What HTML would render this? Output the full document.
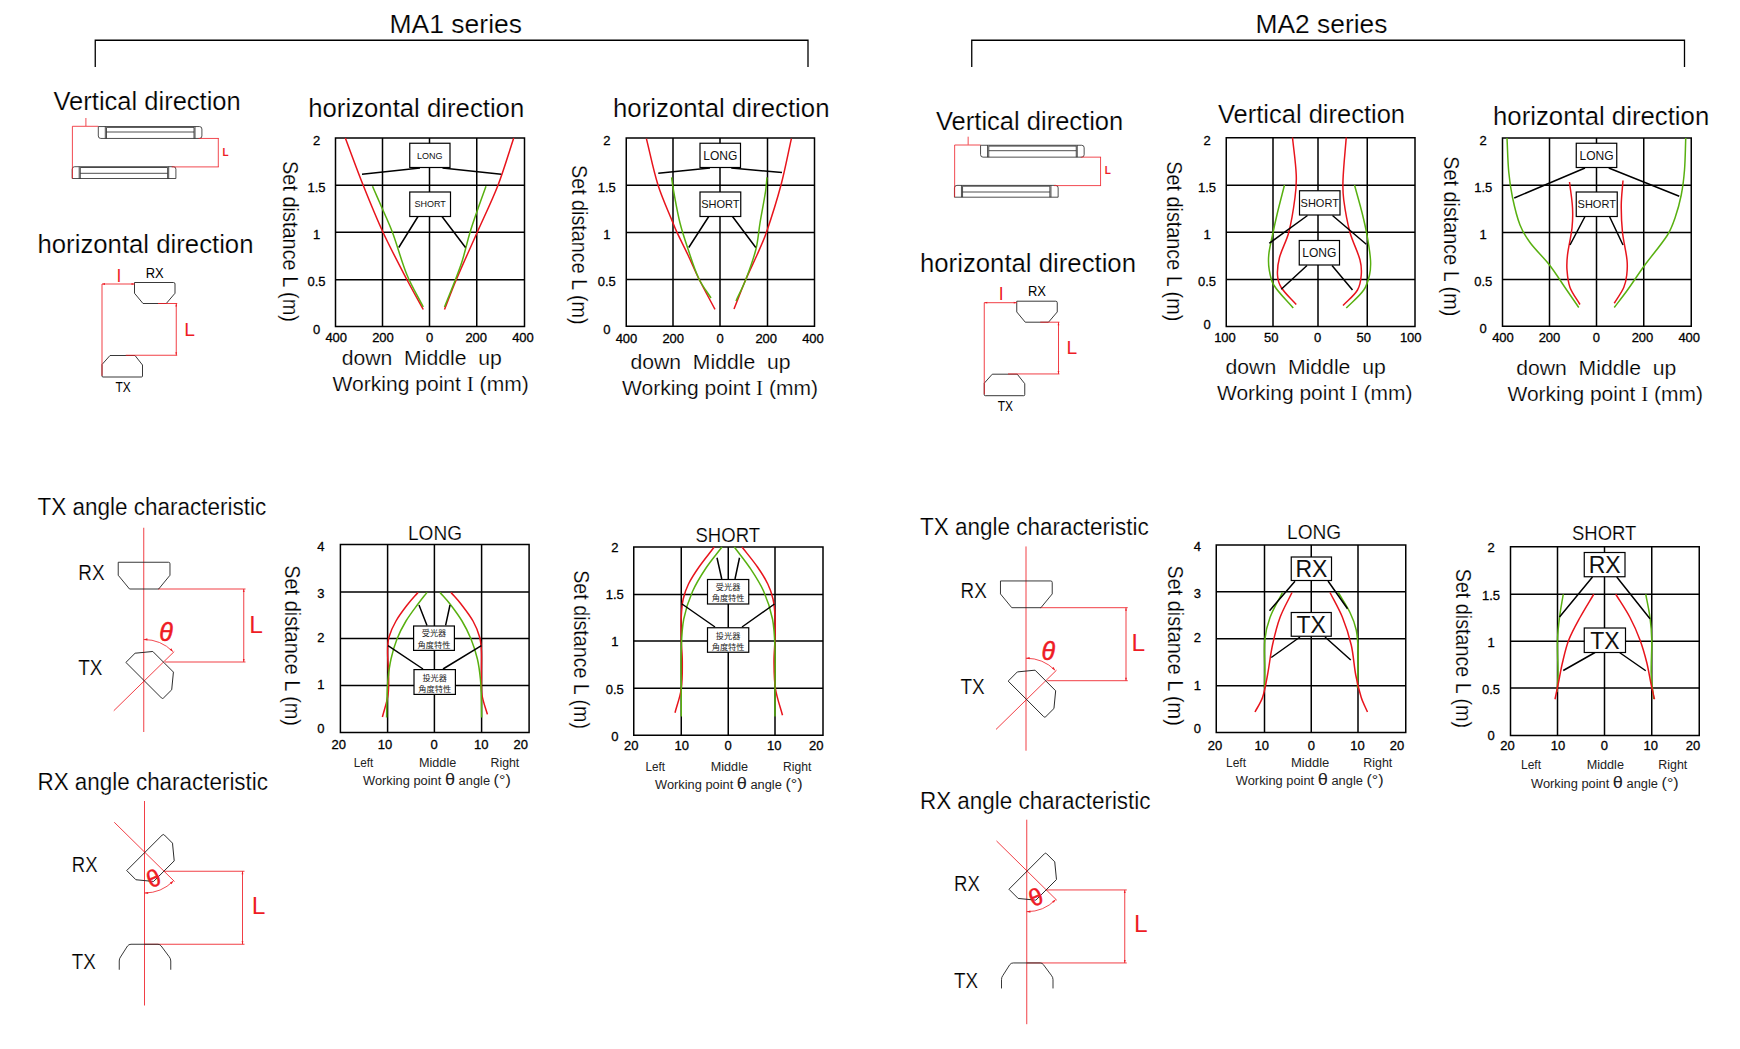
<!DOCTYPE html>
<html><head><meta charset="utf-8"><title>MA1 / MA2 series characteristics</title>
<style>
html,body{margin:0;padding:0;background:#fff;}
svg{display:block;font-family:'Liberation Sans', 'Noto Sans CJK TC', sans-serif;}
</style></head><body>
<svg width="1740" height="1049" viewBox="0 0 1740 1049">
<rect width="1740" height="1049" fill="#fff"/>
<text x="389.5" y="33.25" font-size="26" textLength="132.5" lengthAdjust="spacingAndGlyphs" stroke="#fff" stroke-width="0.2">MA1 series</text>
<text x="1255.5" y="33.25" font-size="26" textLength="132.0" lengthAdjust="spacingAndGlyphs" stroke="#fff" stroke-width="0.2">MA2 series</text>
<path d="M95.25,67V40.25H808V67" fill="none" stroke="#000" stroke-width="1.3"/>
<path d="M971.75,67V40.25H1684.5V67" fill="none" stroke="#000" stroke-width="1.3"/>
<text x="53.5" y="110.3" font-size="25" textLength="187.25" lengthAdjust="spacingAndGlyphs" stroke="#fff" stroke-width="0.2">Vertical direction</text>
<text x="37.5" y="253" font-size="25" textLength="216.0" lengthAdjust="spacingAndGlyphs" stroke="#fff" stroke-width="0.2">horizontal direction</text>
<text x="37.5" y="515.4" font-size="23.5" textLength="228.75" lengthAdjust="spacingAndGlyphs" stroke="#fff" stroke-width="0.2">TX angle characteristic</text>
<text x="37.5" y="790" font-size="23.5" textLength="230.5" lengthAdjust="spacingAndGlyphs" stroke="#fff" stroke-width="0.2">RX angle characteristic</text>
<g transform="translate(0,0)">
<path d="M98.3,126.55H199.4Q201.9,126.55 201.9,129.05V135.95Q201.9,138.45 199.4,138.45H100.8Q98.3,138.45 98.3,135.95V126.55ZM105.3,126.55V138.45M106.5,127.4V138.45M194,127.4V138.45M195,126.55V138.45M106.5,127.4H194M106.5,132H194M74.7,166.7H173.4Q175.9,166.7 175.9,169.2V178.5H72.2V169.2Q72.2,166.7 74.7,166.7ZM79.2,166.7V178.5M80.3,167.5V178.5M167.6,167.5V178.5M168.7,166.7V178.5M80.3,167.5H167.6M80.3,173.3H167.6" fill="none" stroke="#222" stroke-width="0.8"/>
<path d="M98.3,126.3H72.4V178.5M85.9,118V126M198.6,138.45H218.8M218.3,138.45V166.9M171.7,166.9H218.8" fill="none" stroke="#ee1c25" stroke-width="0.8"/>
<text x="222.6" y="155.5" font-size="10" fill="#ee1c25" font-weight="bold">L</text>
<path d="M134.5,282.5H173.5Q175,282.5 175,284V293.25L166.25,303.5H143L134.5,293.25Z" fill="none" stroke="#222" stroke-width="0.9"/>
<path d="M110,355.5H135L142.5,365V376Q142.5,377 141.5,377H103Q102,377 102,376V364.5Z" fill="none" stroke="#222" stroke-width="0.9"/>
<path d="M102,284H134.5M102,284V375.75M158,303.5H177.2M176.25,303.5V355.25M125.75,355.25H177.2" fill="none" stroke="#ee1c25" stroke-width="0.85"/>
<path d="M102,284l3,-0.9v1.8zM134.5,284l-3,-0.9v1.8zM176.25,303.5l-0.9,3h1.8zM176.25,355.25l-0.9,-3h1.8z" fill="#ee1c25"/>
<text x="145.75" y="277.5" font-size="14" textLength="18.0" lengthAdjust="spacingAndGlyphs">RX</text>
<text x="115.5" y="392" font-size="14" textLength="15.25" lengthAdjust="spacingAndGlyphs">TX</text>
<text x="116.6" y="281.5" font-size="17.5" fill="#ee1c25">I</text>
<text x="184.3" y="335.75" font-size="19.2" fill="#ee1c25">L</text>
<path d="M143.75,527.75V732M113.75,710.75L174.25,651.5M158,589H245.5M243.75,589V662M165,662H245.5" fill="none" stroke="#ee1c25" stroke-width="0.85"/>
<path d="M243.75,589l-0.9,3h1.8zM243.75,662l-0.9,-3h1.8z" fill="#ee1c25"/>
<path d="M143.75,639.5A41.25,41.25 0 0 1 172.9,651.6" fill="none" stroke="#ee1c25" stroke-width="0.8"/>
<path d="M143.75,639.5l3.6,-1.2l0.1,2.2zM172.9,651.6l-1.6,-3.4l-1.6,1.6z" fill="#ee1c25"/>
<path transform="translate(144.1,562.25)" d="M-25.875,0H24.375Q25.875,0 25.875,1.5V13.0L14.575,26.75H-14.575L-25.875,13.0Z" fill="none" stroke="#222" stroke-width="0.9"/>
<path transform="translate(144.2,680.7) rotate(45) scale(1,-1)" d="M-25.875,0H24.375Q25.875,0 25.875,1.5V13.0L14.575,26.75H-14.575L-25.875,13.0Z" fill="none" stroke="#222" stroke-width="0.9"/>
<text x="78.25" y="579.5" font-size="21.5" textLength="26.25" lengthAdjust="spacingAndGlyphs" stroke="#fff" stroke-width="0.2">RX</text>
<text x="78.25" y="675.25" font-size="21.5" textLength="24.25" lengthAdjust="spacingAndGlyphs" stroke="#fff" stroke-width="0.2">TX</text>
<text x="249.3" y="632.75" font-size="24.5" fill="#ee1c25">L</text>
<text x="159.2" y="641" font-size="25" fill="#ee1c25" font-style="italic" stroke="#ee1c25" stroke-width="0.5">θ</text>
<path d="M144.5,801V1005.5M114.25,822.25L174.5,881.5M163.75,871.25H244.5M242.5,871.25V944.25M144.5,944.25H244.5" fill="none" stroke="#ee1c25" stroke-width="0.85"/>
<path d="M242.5,871.25l-0.9,3h1.8zM242.5,944.25l-0.9,-3h1.8z" fill="#ee1c25"/>
<path d="M144.5,893A40.75,40.75 0 0 0 173.3,881.05" fill="none" stroke="#ee1c25" stroke-width="0.8"/>
<path d="M144.5,893l3.6,-1.1l0.1,2.2zM173.3,881.05l-3.4,1.5l1.7,1.6z" fill="#ee1c25"/>
<path transform="translate(145,852.25) rotate(-45)" d="M-25.875,0H24.375Q25.875,0 25.875,1.5V13.0L14.575,26.75H-14.575L-25.875,13.0Z" fill="none" stroke="#222" stroke-width="0.9"/>
<path d="M119.25,969.75V961Q119.25,958.5 120.5,957L127.5,946Q128.75,944.25 131,944.25H158Q160,944.25 161.2,946L169,956.5Q170.75,958.5 170.75,961V969.75" fill="none" stroke="#222" stroke-width="0.9"/>
<text x="71.75" y="872.25" font-size="21.5" textLength="25.75" lengthAdjust="spacingAndGlyphs" stroke="#fff" stroke-width="0.2">RX</text>
<text x="71.75" y="969.25" font-size="21.5" textLength="24.0" lengthAdjust="spacingAndGlyphs" stroke="#fff" stroke-width="0.2">TX</text>
<text x="251.8" y="913.5" font-size="24.5" fill="#ee1c25">L</text>
<text transform="translate(150.5,888.5) rotate(-22)" font-size="24" fill="#ee1c25" stroke="#ee1c25" stroke-width="0.5">θ</text>
</g>
<text x="936.0" y="129.6" font-size="25" textLength="187.25" lengthAdjust="spacingAndGlyphs" stroke="#fff" stroke-width="0.2">Vertical direction</text>
<text x="920.0" y="272.3" font-size="25" textLength="216.0" lengthAdjust="spacingAndGlyphs" stroke="#fff" stroke-width="0.2">horizontal direction</text>
<text x="920.0" y="534.6999999999999" font-size="23.5" textLength="228.75" lengthAdjust="spacingAndGlyphs" stroke="#fff" stroke-width="0.2">TX angle characteristic</text>
<text x="920.0" y="809.3" font-size="23.5" textLength="230.5" lengthAdjust="spacingAndGlyphs" stroke="#fff" stroke-width="0.2">RX angle characteristic</text>
<g transform="translate(882.25,18.7)">
<path d="M98.3,126.55H199.4Q201.9,126.55 201.9,129.05V135.95Q201.9,138.45 199.4,138.45H100.8Q98.3,138.45 98.3,135.95V126.55ZM105.3,126.55V138.45M106.5,127.4V138.45M194,127.4V138.45M195,126.55V138.45M106.5,127.4H194M106.5,132H194M74.7,166.7H173.4Q175.9,166.7 175.9,169.2V178.5H72.2V169.2Q72.2,166.7 74.7,166.7ZM79.2,166.7V178.5M80.3,167.5V178.5M167.6,167.5V178.5M168.7,166.7V178.5M80.3,167.5H167.6M80.3,173.3H167.6" fill="none" stroke="#222" stroke-width="0.8"/>
<path d="M98.3,126.3H72.4V178.5M85.9,118V126M198.6,138.45H218.8M218.3,138.45V166.9M171.7,166.9H218.8" fill="none" stroke="#ee1c25" stroke-width="0.8"/>
<text x="222.6" y="155.5" font-size="10" fill="#ee1c25" font-weight="bold">L</text>
<path d="M134.5,282.5H173.5Q175,282.5 175,284V293.25L166.25,303.5H143L134.5,293.25Z" fill="none" stroke="#222" stroke-width="0.9"/>
<path d="M110,355.5H135L142.5,365V376Q142.5,377 141.5,377H103Q102,377 102,376V364.5Z" fill="none" stroke="#222" stroke-width="0.9"/>
<path d="M102,284H134.5M102,284V375.75M158,303.5H177.2M176.25,303.5V355.25M125.75,355.25H177.2" fill="none" stroke="#ee1c25" stroke-width="0.85"/>
<path d="M102,284l3,-0.9v1.8zM134.5,284l-3,-0.9v1.8zM176.25,303.5l-0.9,3h1.8zM176.25,355.25l-0.9,-3h1.8z" fill="#ee1c25"/>
<text x="145.75" y="277.5" font-size="14" textLength="18.0" lengthAdjust="spacingAndGlyphs">RX</text>
<text x="115.5" y="392" font-size="14" textLength="15.25" lengthAdjust="spacingAndGlyphs">TX</text>
<text x="116.6" y="281.5" font-size="17.5" fill="#ee1c25">I</text>
<text x="184.3" y="335.75" font-size="19.2" fill="#ee1c25">L</text>
<path d="M143.75,527.75V732M113.75,710.75L174.25,651.5M158,589H245.5M243.75,589V662M165,662H245.5" fill="none" stroke="#ee1c25" stroke-width="0.85"/>
<path d="M243.75,589l-0.9,3h1.8zM243.75,662l-0.9,-3h1.8z" fill="#ee1c25"/>
<path d="M143.75,639.5A41.25,41.25 0 0 1 172.9,651.6" fill="none" stroke="#ee1c25" stroke-width="0.8"/>
<path d="M143.75,639.5l3.6,-1.2l0.1,2.2zM172.9,651.6l-1.6,-3.4l-1.6,1.6z" fill="#ee1c25"/>
<path transform="translate(144.1,562.25)" d="M-25.875,0H24.375Q25.875,0 25.875,1.5V13.0L14.575,26.75H-14.575L-25.875,13.0Z" fill="none" stroke="#222" stroke-width="0.9"/>
<path transform="translate(144.2,680.7) rotate(45) scale(1,-1)" d="M-25.875,0H24.375Q25.875,0 25.875,1.5V13.0L14.575,26.75H-14.575L-25.875,13.0Z" fill="none" stroke="#222" stroke-width="0.9"/>
<text x="78.25" y="579.5" font-size="21.5" textLength="26.25" lengthAdjust="spacingAndGlyphs" stroke="#fff" stroke-width="0.2">RX</text>
<text x="78.25" y="675.25" font-size="21.5" textLength="24.25" lengthAdjust="spacingAndGlyphs" stroke="#fff" stroke-width="0.2">TX</text>
<text x="249.3" y="632.75" font-size="24.5" fill="#ee1c25">L</text>
<text x="159.2" y="641" font-size="25" fill="#ee1c25" font-style="italic" stroke="#ee1c25" stroke-width="0.5">θ</text>
<path d="M144.5,801V1005.5M114.25,822.25L174.5,881.5M163.75,871.25H244.5M242.5,871.25V944.25M144.5,944.25H244.5" fill="none" stroke="#ee1c25" stroke-width="0.85"/>
<path d="M242.5,871.25l-0.9,3h1.8zM242.5,944.25l-0.9,-3h1.8z" fill="#ee1c25"/>
<path d="M144.5,893A40.75,40.75 0 0 0 173.3,881.05" fill="none" stroke="#ee1c25" stroke-width="0.8"/>
<path d="M144.5,893l3.6,-1.1l0.1,2.2zM173.3,881.05l-3.4,1.5l1.7,1.6z" fill="#ee1c25"/>
<path transform="translate(145,852.25) rotate(-45)" d="M-25.875,0H24.375Q25.875,0 25.875,1.5V13.0L14.575,26.75H-14.575L-25.875,13.0Z" fill="none" stroke="#222" stroke-width="0.9"/>
<path d="M119.25,969.75V961Q119.25,958.5 120.5,957L127.5,946Q128.75,944.25 131,944.25H158Q160,944.25 161.2,946L169,956.5Q170.75,958.5 170.75,961V969.75" fill="none" stroke="#222" stroke-width="0.9"/>
<text x="71.75" y="872.25" font-size="21.5" textLength="25.75" lengthAdjust="spacingAndGlyphs" stroke="#fff" stroke-width="0.2">RX</text>
<text x="71.75" y="969.25" font-size="21.5" textLength="24.0" lengthAdjust="spacingAndGlyphs" stroke="#fff" stroke-width="0.2">TX</text>
<text x="251.8" y="913.5" font-size="24.5" fill="#ee1c25">L</text>
<text transform="translate(150.5,888.5) rotate(-22)" font-size="24" fill="#ee1c25" stroke="#ee1c25" stroke-width="0.5">θ</text>
</g>
<text x="308.25" y="117" font-size="25" textLength="216.0" lengthAdjust="spacingAndGlyphs" stroke="#fff" stroke-width="0.2">horizontal direction</text>
<path d="M335.5,138H524.5V326.5H335.5ZM382.5,138V326.5M429.5,138V326.5M476.75,138V326.5M335.5,185.25H524.5M335.5,232.25H524.5M335.5,279.75H524.5" fill="none" stroke="#000" stroke-width="1.5"/>
<path d="M345.3,138C351.27,153.75 356.94,169.61 363.2,185.25C369.51,201.03 375.85,216.83 383,232.25C390.46,248.34 398.80,264.02 407,279.75C412.22,289.77 417.83,299.58 423.25,309.5" fill="none" stroke="#e8141c" stroke-width="1.5"/>
<path d="M513.75,138C508.50,153.75 504.00,169.77 498,185.25C491.82,201.22 484.17,216.59 477.25,232.25C470.25,248.09 463.01,263.81 456.25,279.75C452.09,289.57 448.42,299.58 444.5,309.5" fill="none" stroke="#e8141c" stroke-width="1.5"/>
<path d="M372.5,186.25C375.42,192.92 378.36,199.57 381.25,206.25C385.03,214.99 389.16,223.59 392.5,232.5C397.75,246.52 401.29,261.16 407,275C411.56,286.06 417.83,296.33 423.25,307" fill="none" stroke="#58b010" stroke-width="1.5"/>
<path d="M486,186.25C483.17,194.17 480.25,202.05 477.5,210C474.92,217.47 472.27,224.93 470,232.5C467.27,241.60 465.28,250.91 462.5,260C460.69,265.92 458.47,271.72 456.25,277.5C452.46,287.38 448.42,297.17 444.5,307" fill="none" stroke="#58b010" stroke-width="1.5"/>
<path d="M420,168L362,174.25M442.5,168L501.25,174.25M418,216.5L398.75,247.5M442,216.5L465.5,247.5" fill="none" stroke="#000" stroke-width="1.5"/>
<rect x="409.75" y="143.25" width="40.25" height="24.25" fill="#fff" stroke="#000" stroke-width="1.2"/>
<text x="429.875" y="158.62" font-size="9" text-anchor="middle" fill="#111">LONG</text>
<rect x="409.75" y="192" width="40.75" height="24.5" fill="#fff" stroke="#000" stroke-width="1.2"/>
<text x="430.125" y="207.49" font-size="9" text-anchor="middle" fill="#111">SHORT</text>
<text x="316.5" y="145.15" font-size="13" text-anchor="middle" stroke="#000" stroke-width="0.3">2</text>
<text x="316.5" y="191.65" font-size="13" text-anchor="middle" stroke="#000" stroke-width="0.3">1.5</text>
<text x="316.5" y="238.9" font-size="13" text-anchor="middle" stroke="#000" stroke-width="0.3">1</text>
<text x="316.5" y="286.15" font-size="13" text-anchor="middle" stroke="#000" stroke-width="0.3">0.5</text>
<text x="316.5" y="333.65" font-size="13" text-anchor="middle" stroke="#000" stroke-width="0.3">0</text>
<text x="336.25" y="342.2" font-size="13" text-anchor="middle" stroke="#000" stroke-width="0.3">400</text>
<text x="383" y="342.2" font-size="13" text-anchor="middle" stroke="#000" stroke-width="0.3">200</text>
<text x="429.5" y="342.2" font-size="13" text-anchor="middle" stroke="#000" stroke-width="0.3">0</text>
<text x="476.25" y="342.2" font-size="13" text-anchor="middle" stroke="#000" stroke-width="0.3">200</text>
<text x="523" y="342.2" font-size="13" text-anchor="middle" stroke="#000" stroke-width="0.3">400</text>
<text transform="translate(283.25,161) rotate(90)" font-size="21.5" textLength="161" lengthAdjust="spacingAndGlyphs" stroke="#fff" stroke-width="0.2">Set distance L (m)</text>
<text x="341.75" y="365" font-size="20" textLength="160.0" lengthAdjust="spacingAndGlyphs" stroke="#fff" stroke-width="0.2">down  Middle  up</text>
<text x="332.5" y="391.25" font-size="20" stroke="#fff" stroke-width="0.2" textLength="196.25" lengthAdjust="spacingAndGlyphs">Working point <tspan font-family="Liberation Serif, serif">I</tspan> (mm)</text>
<text x="613" y="117" font-size="25" textLength="216.5" lengthAdjust="spacingAndGlyphs" stroke="#fff" stroke-width="0.2">horizontal direction</text>
<path d="M626.25,138H814.5V326.25H626.25ZM673,138V326.25M720,138V326.25M767.5,138V326.25M626.25,185.25H814.5M626.25,232.5H814.5M626.25,279.5H814.5" fill="none" stroke="#000" stroke-width="1.5"/>
<path d="M646.4,138.6C650.27,154.07 653.21,169.79 658,185C662.09,197.99 667.93,210.36 673,223C674.27,226.16 675.55,229.32 677,232.4C680.56,239.99 684.42,247.42 688,255C691.76,262.96 695.09,271.12 699,279C704.09,289.26 709.67,299.27 715,309.4" fill="none" stroke="#e8141c" stroke-width="1.5"/>
<path d="M791.4,138.6C787.93,154.07 785.08,169.68 781,185C776.74,200.97 771.76,216.76 766.4,232.4C763.75,240.12 760.27,247.53 757,255C753.47,263.06 749.45,270.90 746,279C741.78,288.91 738.00,299.00 734,309" fill="none" stroke="#e8141c" stroke-width="1.5"/>
<path d="M671.6,177.4C672.27,181.93 672.77,186.49 673.6,191C675.57,201.70 677.38,212.44 680,223C682.18,231.80 685.09,240.41 688,249C691.42,259.09 694.47,269.36 699,279C702.18,285.78 707.00,291.67 711,298" fill="none" stroke="#58b010" stroke-width="1.5"/>
<path d="M767,177.4C766.53,181.93 766.29,186.50 765.6,191C763.96,201.70 761.77,212.32 760,223C758.57,231.65 758.13,240.49 756,249C753.44,259.23 749.78,269.16 746,279C743.11,286.52 739.33,293.67 736,301" fill="none" stroke="#58b010" stroke-width="1.5"/>
<path d="M710,168L658.25,173.25M731.25,168L782,172.5M708.75,216.5L688.75,247.5M732.5,216.5L755.75,247.5" fill="none" stroke="#000" stroke-width="1.5"/>
<rect x="700" y="143.25" width="40.5" height="24.25" fill="#fff" stroke="#000" stroke-width="1.2"/>
<text x="720.25" y="159.69" font-size="12" text-anchor="middle" fill="#111">LONG</text>
<rect x="700" y="192" width="40.75" height="24.5" fill="#fff" stroke="#000" stroke-width="1.2"/>
<text x="720.375" y="208.21" font-size="11" text-anchor="middle" fill="#111">SHORT</text>
<text x="606.8" y="145.15" font-size="13" text-anchor="middle" stroke="#000" stroke-width="0.3">2</text>
<text x="606.8" y="191.65" font-size="13" text-anchor="middle" stroke="#000" stroke-width="0.3">1.5</text>
<text x="606.8" y="238.9" font-size="13" text-anchor="middle" stroke="#000" stroke-width="0.3">1</text>
<text x="606.8" y="286.15" font-size="13" text-anchor="middle" stroke="#000" stroke-width="0.3">0.5</text>
<text x="606.8" y="333.65" font-size="13" text-anchor="middle" stroke="#000" stroke-width="0.3">0</text>
<text x="626.5" y="342.5" font-size="13" text-anchor="middle" stroke="#000" stroke-width="0.3">400</text>
<text x="673.25" y="342.5" font-size="13" text-anchor="middle" stroke="#000" stroke-width="0.3">200</text>
<text x="720" y="342.5" font-size="13" text-anchor="middle" stroke="#000" stroke-width="0.3">0</text>
<text x="766.25" y="342.5" font-size="13" text-anchor="middle" stroke="#000" stroke-width="0.3">200</text>
<text x="813" y="342.5" font-size="13" text-anchor="middle" stroke="#000" stroke-width="0.3">400</text>
<text transform="translate(572,165) rotate(90)" font-size="21.5" textLength="159.5" lengthAdjust="spacingAndGlyphs" stroke="#fff" stroke-width="0.2">Set distance L (m)</text>
<text x="630.5" y="368.75" font-size="20" textLength="160.0" lengthAdjust="spacingAndGlyphs" stroke="#fff" stroke-width="0.2">down  Middle  up</text>
<text x="622" y="395.25" font-size="20" stroke="#fff" stroke-width="0.2" textLength="196" lengthAdjust="spacingAndGlyphs">Working point <tspan font-family="Liberation Serif, serif">I</tspan> (mm)</text>
<text x="1218" y="122.8" font-size="25" textLength="187" lengthAdjust="spacingAndGlyphs" stroke="#fff" stroke-width="0.2">Vertical direction</text>
<path d="M1226.25,137.75H1415V326.4H1226.25ZM1273,137.75V326.4M1318,137.75V326.4M1367.25,137.75V326.4M1226.25,185.25H1415M1226.25,232.25H1415M1226.25,279.5H1415" fill="none" stroke="#000" stroke-width="1.5"/>
<path d="M1292.5,137.5C1293.75,150.00 1295.73,162.45 1296.25,175C1296.56,182.51 1295.97,190.05 1295,197.5C1293.47,209.25 1291.71,221.03 1288.75,232.5C1286.53,241.10 1281.77,248.91 1279.5,257.5C1278.00,263.18 1277.16,269.14 1277.5,275C1277.75,279.34 1278.92,283.83 1281.25,287.5C1285.30,293.88 1291.25,298.83 1296.25,304.5" fill="none" stroke="#e8141c" stroke-width="1.5"/>
<path d="M1346.25,137.5C1345.17,151.67 1343.57,165.80 1343,180C1342.73,186.67 1342.87,193.39 1343.75,200C1345.21,210.94 1347.12,221.85 1350,232.5C1352.55,241.91 1357.50,250.57 1360,260C1361.28,264.85 1361.67,270.00 1361.25,275C1360.82,280.14 1360.15,285.58 1357.5,290C1353.87,296.07 1347.83,300.33 1343,305.5" fill="none" stroke="#e8141c" stroke-width="1.5"/>
<path d="M1284.5,185C1282.17,194.17 1279.71,203.30 1277.5,212.5C1275.71,219.97 1274.05,227.47 1272.5,235C1271.13,241.64 1269.38,248.25 1268.75,255C1268.29,259.98 1268.43,265.07 1269.25,270C1270.11,275.15 1270.96,280.59 1273.75,285C1279.12,293.50 1286.75,300.33 1293.25,308" fill="none" stroke="#58b010" stroke-width="1.5"/>
<path d="M1354.5,185C1357.00,194.17 1359.70,203.28 1362,212.5C1363.86,219.95 1365.65,227.44 1367,235C1368.48,243.28 1369.98,251.60 1370.5,260C1370.81,265.00 1370.60,270.11 1369.5,275C1368.32,280.22 1366.83,285.62 1363.75,290C1358.93,296.84 1352.08,302.00 1346.25,308" fill="none" stroke="#58b010" stroke-width="1.5"/>
<path d="M1307.5,215.5L1269.25,243.25M1332.5,215.5L1366.25,244.25M1307,265.5L1281.25,289.25M1332,265.5L1352.5,290" fill="none" stroke="#000" stroke-width="1.5"/>
<rect x="1299.5" y="190.75" width="40.5" height="24.25" fill="#fff" stroke="#000" stroke-width="1.2"/>
<text x="1319.75" y="206.84" font-size="11" text-anchor="middle" fill="#111">SHORT</text>
<rect x="1299.25" y="240.5" width="40.25" height="24.5" fill="#fff" stroke="#000" stroke-width="1.2"/>
<text x="1319.375" y="257.07" font-size="12" text-anchor="middle" fill="#111">LONG</text>
<text x="1207" y="145.15" font-size="13" text-anchor="middle" stroke="#000" stroke-width="0.3">2</text>
<text x="1207" y="191.65" font-size="13" text-anchor="middle" stroke="#000" stroke-width="0.3">1.5</text>
<text x="1207" y="238.9" font-size="13" text-anchor="middle" stroke="#000" stroke-width="0.3">1</text>
<text x="1207" y="286.4" font-size="13" text-anchor="middle" stroke="#000" stroke-width="0.3">0.5</text>
<text x="1207" y="329.15" font-size="13" text-anchor="middle" stroke="#000" stroke-width="0.3">0</text>
<text x="1225" y="342" font-size="13" text-anchor="middle" stroke="#000" stroke-width="0.3">100</text>
<text x="1271.25" y="342" font-size="13" text-anchor="middle" stroke="#000" stroke-width="0.3">50</text>
<text x="1317.5" y="342" font-size="13" text-anchor="middle" stroke="#000" stroke-width="0.3">0</text>
<text x="1363.75" y="342" font-size="13" text-anchor="middle" stroke="#000" stroke-width="0.3">50</text>
<text x="1410.75" y="342" font-size="13" text-anchor="middle" stroke="#000" stroke-width="0.3">100</text>
<text transform="translate(1167,161.25) rotate(90)" font-size="21.5" textLength="160.0" lengthAdjust="spacingAndGlyphs" stroke="#fff" stroke-width="0.2">Set distance L (m)</text>
<text x="1225.5" y="373.75" font-size="20" textLength="160.25" lengthAdjust="spacingAndGlyphs" stroke="#fff" stroke-width="0.2">down  Middle  up</text>
<text x="1217" y="400" font-size="20" stroke="#fff" stroke-width="0.2" textLength="195.5" lengthAdjust="spacingAndGlyphs">Working point <tspan font-family="Liberation Serif, serif">I</tspan> (mm)</text>
<text x="1493" y="125" font-size="25" textLength="216.25" lengthAdjust="spacingAndGlyphs" stroke="#fff" stroke-width="0.2">horizontal direction</text>
<path d="M1502.5,138H1691.25V326.25H1502.5ZM1549.5,138V326.25M1596.5,138V326.25M1643.75,138V326.25M1502.5,185.25H1691.25M1502.5,232.5H1691.25M1502.5,279.5H1691.25" fill="none" stroke="#000" stroke-width="1.5"/>
<path d="M1507,138C1507.58,149.33 1507.71,160.70 1508.75,172C1509.54,180.55 1510.72,189.10 1512.5,197.5C1514.47,206.79 1516.56,216.14 1520,225C1522.44,231.26 1526.01,237.09 1530,242.5C1535.89,250.49 1543.41,257.17 1549.5,265C1555.09,272.19 1559.84,280.00 1565,287.5C1569.59,294.16 1574.17,300.83 1578.75,307.5" fill="none" stroke="#58b010" stroke-width="1.5"/>
<path d="M1685.75,138C1685.33,148.67 1685.34,159.36 1684.5,170C1683.84,178.38 1682.88,186.76 1681.25,195C1679.71,202.79 1677.58,210.49 1675,218C1672.99,223.86 1670.85,229.79 1667.5,235C1660.62,245.71 1651.99,255.20 1644.5,265.5C1638.65,273.54 1633.31,281.93 1627.5,290C1623.22,295.94 1618.67,301.67 1614.25,307.5" fill="none" stroke="#58b010" stroke-width="1.5"/>
<path d="M1569.5,182C1570.50,190.50 1572.04,198.95 1572.5,207.5C1572.87,214.33 1572.72,221.20 1572,228C1571.04,237.07 1568.58,245.94 1567.5,255C1566.91,259.97 1566.62,265.01 1567,270C1567.45,275.90 1567.91,281.96 1570,287.5C1572.32,293.65 1576.67,298.83 1580,304.5" fill="none" stroke="#e8141c" stroke-width="1.5"/>
<path d="M1623,180.5C1622.42,188.67 1621.33,196.81 1621.25,205C1621.16,214.18 1621.55,223.37 1622.5,232.5C1623.47,241.74 1626.08,250.76 1627,260C1627.50,264.98 1627.34,270.03 1626.75,275C1626.25,279.26 1625.48,283.58 1623.75,287.5C1621.27,293.11 1617.42,298.00 1614.25,303.25" fill="none" stroke="#e8141c" stroke-width="1.5"/>
<path d="M1585,168L1514.25,198M1608.75,168L1679.25,196.25M1585,216.5L1570,245M1609.5,216.5L1623,245" fill="none" stroke="#000" stroke-width="1.5"/>
<rect x="1576.25" y="143.25" width="40.5" height="24.25" fill="#fff" stroke="#000" stroke-width="1.2"/>
<text x="1596.5" y="159.69" font-size="12" text-anchor="middle" fill="#111">LONG</text>
<rect x="1576.25" y="192" width="41.0" height="24.5" fill="#fff" stroke="#000" stroke-width="1.2"/>
<text x="1596.75" y="208.21" font-size="11" text-anchor="middle" fill="#111">SHORT</text>
<text x="1483.2" y="145.15" font-size="13" text-anchor="middle" stroke="#000" stroke-width="0.3">2</text>
<text x="1483.2" y="191.65" font-size="13" text-anchor="middle" stroke="#000" stroke-width="0.3">1.5</text>
<text x="1483.2" y="238.9" font-size="13" text-anchor="middle" stroke="#000" stroke-width="0.3">1</text>
<text x="1483.2" y="286.4" font-size="13" text-anchor="middle" stroke="#000" stroke-width="0.3">0.5</text>
<text x="1483.2" y="333.4" font-size="13" text-anchor="middle" stroke="#000" stroke-width="0.3">0</text>
<text x="1503" y="342" font-size="13" text-anchor="middle" stroke="#000" stroke-width="0.3">400</text>
<text x="1549.5" y="342" font-size="13" text-anchor="middle" stroke="#000" stroke-width="0.3">200</text>
<text x="1596.25" y="342" font-size="13" text-anchor="middle" stroke="#000" stroke-width="0.3">0</text>
<text x="1642.5" y="342" font-size="13" text-anchor="middle" stroke="#000" stroke-width="0.3">200</text>
<text x="1689.25" y="342" font-size="13" text-anchor="middle" stroke="#000" stroke-width="0.3">400</text>
<text transform="translate(1443.75,156.25) rotate(90)" font-size="21.5" textLength="160.0" lengthAdjust="spacingAndGlyphs" stroke="#fff" stroke-width="0.2">Set distance L (m)</text>
<text x="1516.25" y="375" font-size="20" textLength="160.0" lengthAdjust="spacingAndGlyphs" stroke="#fff" stroke-width="0.2">down  Middle  up</text>
<text x="1507.5" y="401.25" font-size="20" stroke="#fff" stroke-width="0.2" textLength="195.5" lengthAdjust="spacingAndGlyphs">Working point <tspan font-family="Liberation Serif, serif">I</tspan> (mm)</text>
<text x="408" y="539.5" font-size="21" textLength="54" lengthAdjust="spacingAndGlyphs" stroke="#fff" stroke-width="0.2">LONG</text>
<path d="M340.4,544.6H529.1V732.4H340.4ZM387.6,544.6V732.4M434.4,544.6V732.4M481.6,544.6V732.4M340.4,592H529.1M340.4,638.6H529.1M340.4,685.6H529.1" fill="none" stroke="#000" stroke-width="1.5"/>
<path d="M418,592.4C414.67,596.27 411.11,599.95 408,604C403.77,609.50 399.46,614.99 396,621C393.10,626.04 390.57,631.39 389,637C387.74,641.52 387.65,646.31 387.6,651C387.52,659.01 388.53,666.99 388.6,675C388.66,681.67 388.97,688.40 388,695C386.89,702.49 384.27,709.67 382.4,717" fill="none" stroke="#e8141c" stroke-width="1.5"/>
<path d="M451,592.4C454.33,596.27 457.89,599.95 461,604C465.23,609.50 469.59,614.96 473,621C475.83,626.03 478.04,631.44 479.6,637C480.87,641.53 481.18,646.30 481.4,651C481.78,658.99 481.29,667.00 481.4,675C481.49,681.67 481.00,688.41 482,695C483.01,701.64 485.60,707.93 487.4,714.4" fill="none" stroke="#e8141c" stroke-width="1.5"/>
<path d="M427,592.4C424.00,596.27 420.90,600.06 418,604C413.89,609.59 409.57,615.05 406,621C402.55,626.75 399.46,632.76 397,639C394.44,645.47 392.53,652.21 391,659C389.52,665.58 388.67,672.29 388,679C387.34,685.64 387.24,692.33 387,699C386.78,705.13 386.73,711.27 386.6,717.4" fill="none" stroke="#58b010" stroke-width="1.5"/>
<path d="M440,592.4C443.33,596.27 446.89,599.95 450,604C454.23,609.50 458.43,615.05 462,621C465.45,626.75 468.48,632.78 471,639C473.63,645.49 475.80,652.19 477.4,659C478.94,665.56 479.73,672.29 480.4,679C481.06,685.64 481.19,692.33 481.4,699C481.59,705.13 481.53,711.27 481.6,717.4" fill="none" stroke="#58b010" stroke-width="1.5"/>
<path d="M419,605L427,625.4M450,605L445.6,625.4M388,645.6L423,669M481.4,645.6L443,669" fill="none" stroke="#000" stroke-width="1.5"/>
<rect x="413.6" y="626" width="40.8" height="24.4" fill="#fff" stroke="#000" stroke-width="1.2"/>
<text x="434.0" y="635.6" font-size="8.2" text-anchor="middle" fill="#222">受光器</text>
<text x="434.0" y="647.6" font-size="8.2" text-anchor="middle" fill="#222">角度特性</text>
<rect x="414" y="669.6" width="41.4" height="24.8" fill="#fff" stroke="#000" stroke-width="1.2"/>
<text x="434.7" y="680.6" font-size="8.2" text-anchor="middle" fill="#222">投光器</text>
<text x="434.7" y="691.6" font-size="8.2" text-anchor="middle" fill="#222">角度特性</text>
<text x="320.75" y="551.15" font-size="13" text-anchor="middle" stroke="#000" stroke-width="0.3">4</text>
<text x="320.75" y="598.15" font-size="13" text-anchor="middle" stroke="#000" stroke-width="0.3">3</text>
<text x="320.75" y="642.4" font-size="13" text-anchor="middle" stroke="#000" stroke-width="0.3">2</text>
<text x="320.75" y="689.4" font-size="13" text-anchor="middle" stroke="#000" stroke-width="0.3">1</text>
<text x="320.75" y="733.15" font-size="13" text-anchor="middle" stroke="#000" stroke-width="0.3">0</text>
<text x="338.75" y="749" font-size="13" text-anchor="middle" stroke="#000" stroke-width="0.3">20</text>
<text x="385" y="749" font-size="13" text-anchor="middle" stroke="#000" stroke-width="0.3">10</text>
<text x="434" y="749" font-size="13" text-anchor="middle" stroke="#000" stroke-width="0.3">0</text>
<text x="481.25" y="749" font-size="13" text-anchor="middle" stroke="#000" stroke-width="0.3">10</text>
<text x="520.75" y="749" font-size="13" text-anchor="middle" stroke="#000" stroke-width="0.3">20</text>
<text transform="translate(285,565.25) rotate(90)" font-size="21.5" textLength="160.75" lengthAdjust="spacingAndGlyphs" stroke="#fff" stroke-width="0.2">Set distance L (m)</text>
<text x="353.75" y="766.6" font-size="12" textLength="19.5" lengthAdjust="spacingAndGlyphs" fill="#222">Left</text>
<text x="419" y="766.6" font-size="12" textLength="37.25" lengthAdjust="spacingAndGlyphs" fill="#222">Middle</text>
<text x="490.5" y="766.6" font-size="12" textLength="28.75" lengthAdjust="spacingAndGlyphs" fill="#222">Right</text>
<text x="363" y="785.2" font-size="12" fill="#222" textLength="147.75" lengthAdjust="spacingAndGlyphs">Working point <tspan font-size="17">θ</tspan> angle <tspan font-size="15">(°)</tspan></text>
<text x="695.5" y="541.5" font-size="21" textLength="64.5" lengthAdjust="spacingAndGlyphs" stroke="#fff" stroke-width="0.2">SHORT</text>
<path d="M633.75,547H823V735.25H633.75ZM681.25,547V735.25M728.25,547V735.25M775,547V735.25M633.75,594.5H823M633.75,641H823M633.75,688.25H823" fill="none" stroke="#000" stroke-width="1.5"/>
<path d="M714.25,547C709.17,553.67 703.79,560.12 699,567C695.20,572.47 691.45,578.03 688.5,584C686.15,588.75 684.36,593.83 683.2,599C681.95,604.56 681.58,610.30 681.3,616C680.93,623.66 681.08,631.34 681.25,639C681.41,646.51 682.30,653.99 682.3,661.5C682.30,670.67 682.54,679.92 681.25,689C680.10,697.10 677.08,704.83 675,712.75" fill="none" stroke="#e8141c" stroke-width="1.5"/>
<path d="M742,547C747.17,553.67 752.68,560.08 757.5,567C761.29,572.43 764.91,578.04 767.8,584C770.11,588.76 771.84,593.84 773,599C774.25,604.57 774.72,610.30 775,616C775.38,623.66 775.17,631.34 775,639C774.84,646.51 773.92,653.99 774,661.5C774.09,670.68 774.07,679.93 775.5,689C776.91,697.94 780.17,706.50 782.5,715.25" fill="none" stroke="#e8141c" stroke-width="1.5"/>
<path d="M722,547C716.67,554.00 710.86,560.67 706,568C701.01,575.53 696.11,583.22 692.5,591.5C688.65,600.32 685.60,609.56 683.75,619C681.82,628.85 681.60,638.97 681.25,649C680.77,662.66 681.25,676.33 681.25,690C681.25,698.83 681.25,707.67 681.25,716.5" fill="none" stroke="#58b010" stroke-width="1.5"/>
<path d="M734.25,547C739.50,554.00 745.17,560.71 750,568C755.01,575.56 760.09,583.20 763.75,591.5C767.63,600.30 770.65,609.56 772.5,619C774.43,628.85 774.65,638.97 775,649C775.48,662.66 775.00,676.33 775,690C775.00,698.83 775.00,707.67 775,716.5" fill="none" stroke="#58b010" stroke-width="1.5"/>
<path d="M717,557.75L721.75,579M739.5,557.75L735,579M682,604L715,627M774.5,604L742,627" fill="none" stroke="#000" stroke-width="1.5"/>
<rect x="707.5" y="579.5" width="41.25" height="24.5" fill="#fff" stroke="#000" stroke-width="1.2"/>
<text x="728.125" y="589.5" font-size="8.2" text-anchor="middle" fill="#222">受光器</text>
<text x="728.125" y="601.3" font-size="8.2" text-anchor="middle" fill="#222">角度特性</text>
<rect x="707.5" y="627.75" width="41.25" height="24.5" fill="#fff" stroke="#000" stroke-width="1.2"/>
<text x="728.125" y="638.5" font-size="8.2" text-anchor="middle" fill="#222">投光器</text>
<text x="728.125" y="649.5" font-size="8.2" text-anchor="middle" fill="#222">角度特性</text>
<text x="614.8" y="552.4" font-size="13" text-anchor="middle" stroke="#000" stroke-width="0.3">2</text>
<text x="614.8" y="599.4" font-size="13" text-anchor="middle" stroke="#000" stroke-width="0.3">1.5</text>
<text x="614.8" y="646.15" font-size="13" text-anchor="middle" stroke="#000" stroke-width="0.3">1</text>
<text x="614.8" y="693.65" font-size="13" text-anchor="middle" stroke="#000" stroke-width="0.3">0.5</text>
<text x="614.8" y="740.65" font-size="13" text-anchor="middle" stroke="#000" stroke-width="0.3">0</text>
<text x="631.25" y="749.75" font-size="13" text-anchor="middle" stroke="#000" stroke-width="0.3">20</text>
<text x="681.75" y="749.75" font-size="13" text-anchor="middle" stroke="#000" stroke-width="0.3">10</text>
<text x="728" y="749.75" font-size="13" text-anchor="middle" stroke="#000" stroke-width="0.3">0</text>
<text x="774.25" y="749.75" font-size="13" text-anchor="middle" stroke="#000" stroke-width="0.3">10</text>
<text x="816.25" y="749.75" font-size="13" text-anchor="middle" stroke="#000" stroke-width="0.3">20</text>
<text transform="translate(573.5,570.25) rotate(90)" font-size="21.5" textLength="158.75" lengthAdjust="spacingAndGlyphs" stroke="#fff" stroke-width="0.2">Set distance L (m)</text>
<text x="645.5" y="771" font-size="12" textLength="19.5" lengthAdjust="spacingAndGlyphs" fill="#222">Left</text>
<text x="710.75" y="771" font-size="12" textLength="37.25" lengthAdjust="spacingAndGlyphs" fill="#222">Middle</text>
<text x="783" y="771" font-size="12" textLength="28.25" lengthAdjust="spacingAndGlyphs" fill="#222">Right</text>
<text x="655" y="789" font-size="12" fill="#222" textLength="147.5" lengthAdjust="spacingAndGlyphs">Working point <tspan font-size="17">θ</tspan> angle <tspan font-size="15">(°)</tspan></text>
<text x="1287" y="538.75" font-size="21" textLength="54.25" lengthAdjust="spacingAndGlyphs" stroke="#fff" stroke-width="0.2">LONG</text>
<path d="M1216.25,545H1405.75V732.5H1216.25ZM1264.5,545V732.5M1311.25,545V732.5M1358,545V732.5M1216.25,591.75H1405.75M1216.25,638.75H1405.75M1216.25,685.75H1405.75" fill="none" stroke="#000" stroke-width="1.5"/>
<path d="M1282.5,592.5C1278.33,600.83 1273.25,608.77 1270,617.5C1267.31,624.71 1265.56,632.34 1264.8,640C1263.81,649.95 1264.86,660.00 1264.8,670C1264.76,676.00 1264.60,682.00 1264.5,688" fill="none" stroke="#58b010" stroke-width="1.5"/>
<path d="M1338.25,592.5C1342.17,599.17 1346.65,605.53 1350,612.5C1352.68,618.08 1354.96,623.94 1356.25,630C1357.65,636.54 1357.86,643.31 1358,650C1358.27,662.66 1357.67,675.33 1357.5,688" fill="none" stroke="#58b010" stroke-width="1.5"/>
<path d="M1292,592.5C1288.00,600.83 1283.22,608.83 1280,617.5C1276.69,626.41 1274.52,635.72 1272.5,645C1270.35,654.91 1269.40,665.04 1267.5,675C1266.06,682.55 1264.96,690.22 1262.5,697.5C1260.76,702.66 1257.50,707.17 1255,712" fill="none" stroke="#e8141c" stroke-width="1.5"/>
<path d="M1330,592.5C1334.17,600.83 1339.00,608.86 1342.5,617.5C1346.11,626.42 1349.09,635.63 1351.25,645C1353.52,654.85 1353.86,665.07 1355.75,675C1357.19,682.58 1358.91,690.14 1361.25,697.5C1362.84,702.52 1365.42,707.17 1367.5,712" fill="none" stroke="#e8141c" stroke-width="1.5"/>
<path d="M1295,581.25L1269.5,610.75M1300,637L1271.25,657.5M1328,581L1347.5,608.75M1325,637L1350.75,660" fill="none" stroke="#000" stroke-width="1.5"/>
<rect x="1291.25" y="557" width="40.25" height="23.5" fill="#fff" stroke="#000" stroke-width="1.2"/>
<text x="1311.375" y="577.03" font-size="23" text-anchor="middle" fill="#111">RX</text>
<rect x="1291.25" y="612.5" width="40.0" height="23.75" fill="#fff" stroke="#000" stroke-width="1.2"/>
<text x="1311.25" y="632.65" font-size="23" text-anchor="middle" fill="#111">TX</text>
<text x="1197.25" y="551.4" font-size="13" text-anchor="middle" stroke="#000" stroke-width="0.3">4</text>
<text x="1197.25" y="598.4" font-size="13" text-anchor="middle" stroke="#000" stroke-width="0.3">3</text>
<text x="1197.25" y="642.15" font-size="13" text-anchor="middle" stroke="#000" stroke-width="0.3">2</text>
<text x="1197.25" y="689.65" font-size="13" text-anchor="middle" stroke="#000" stroke-width="0.3">1</text>
<text x="1197.25" y="732.9" font-size="13" text-anchor="middle" stroke="#000" stroke-width="0.3">0</text>
<text x="1215" y="749.5" font-size="13" text-anchor="middle" stroke="#000" stroke-width="0.3">20</text>
<text x="1261.75" y="749.5" font-size="13" text-anchor="middle" stroke="#000" stroke-width="0.3">10</text>
<text x="1311.25" y="749.5" font-size="13" text-anchor="middle" stroke="#000" stroke-width="0.3">0</text>
<text x="1357.5" y="749.5" font-size="13" text-anchor="middle" stroke="#000" stroke-width="0.3">10</text>
<text x="1397" y="749.5" font-size="13" text-anchor="middle" stroke="#000" stroke-width="0.3">20</text>
<text transform="translate(1167.5,565.5) rotate(90)" font-size="21.5" textLength="160.25" lengthAdjust="spacingAndGlyphs" stroke="#fff" stroke-width="0.2">Set distance L (m)</text>
<text x="1226" y="766.6" font-size="12" textLength="20" lengthAdjust="spacingAndGlyphs" fill="#222">Left</text>
<text x="1291" y="766.6" font-size="12" textLength="38.3" lengthAdjust="spacingAndGlyphs" fill="#222">Middle</text>
<text x="1363.3" y="766.6" font-size="12" textLength="29.0" lengthAdjust="spacingAndGlyphs" fill="#222">Right</text>
<text x="1235.8" y="785" font-size="12" fill="#222" textLength="147.8" lengthAdjust="spacingAndGlyphs">Working point <tspan font-size="17">θ</tspan> angle <tspan font-size="15">(°)</tspan></text>
<text x="1572" y="540" font-size="21" textLength="64.25" lengthAdjust="spacingAndGlyphs" stroke="#fff" stroke-width="0.2">SHORT</text>
<path d="M1510.5,546.75H1699.25V735.5H1510.5ZM1557.5,546.75V735.5M1604.5,546.75V735.5M1651.75,546.75V735.5M1510.5,594.25H1699.25M1510.5,641.25H1699.25M1510.5,688H1699.25" fill="none" stroke="#000" stroke-width="1.5"/>
<path d="M1563.25,594.25C1562.00,602.00 1560.48,609.71 1559.5,617.5C1558.56,624.97 1557.70,632.47 1557.5,640C1557.20,651.66 1558.11,663.33 1558,675C1557.95,680.68 1557.33,686.33 1557,692" fill="none" stroke="#58b010" stroke-width="1.5"/>
<path d="M1645.75,594.25C1647.17,602.00 1648.98,609.69 1650,617.5C1650.98,624.96 1651.59,632.48 1651.75,640C1652.00,651.67 1650.85,663.34 1651.25,675C1651.52,683.04 1652.92,691.00 1653.75,699" fill="none" stroke="#58b010" stroke-width="1.5"/>
<path d="M1593.75,594.25C1589.17,602.00 1584.32,609.60 1580,617.5C1575.98,624.86 1571.79,632.18 1568.75,640C1565.93,647.25 1564.31,654.93 1562.5,662.5C1560.72,669.94 1559.53,677.51 1558,685C1557.03,689.76 1556.00,694.50 1555,699.25" fill="none" stroke="#e8141c" stroke-width="1.5"/>
<path d="M1615.75,594.25C1620.50,602.00 1625.74,609.47 1630,617.5C1633.84,624.75 1637.14,632.31 1640,640C1642.73,647.34 1644.85,654.90 1646.75,662.5C1648.61,669.92 1649.67,677.52 1651.25,685C1652.26,689.77 1653.42,694.50 1654.5,699.25" fill="none" stroke="#e8141c" stroke-width="1.5"/>
<path d="M1592.5,577L1559.5,617M1616.75,577L1650,618.75M1595,652.5L1563.25,670.5M1619.5,652.5L1645.75,670.75" fill="none" stroke="#000" stroke-width="1.5"/>
<rect x="1584.25" y="552.5" width="40.75" height="24.25" fill="#fff" stroke="#000" stroke-width="1.2"/>
<text x="1604.625" y="572.9" font-size="23" text-anchor="middle" fill="#111">RX</text>
<rect x="1584.25" y="628" width="41.25" height="24.5" fill="#fff" stroke="#000" stroke-width="1.2"/>
<text x="1604.875" y="648.53" font-size="23" text-anchor="middle" fill="#111">TX</text>
<text x="1491" y="552.15" font-size="13" text-anchor="middle" stroke="#000" stroke-width="0.3">2</text>
<text x="1491" y="599.65" font-size="13" text-anchor="middle" stroke="#000" stroke-width="0.3">1.5</text>
<text x="1491" y="646.65" font-size="13" text-anchor="middle" stroke="#000" stroke-width="0.3">1</text>
<text x="1491" y="693.9" font-size="13" text-anchor="middle" stroke="#000" stroke-width="0.3">0.5</text>
<text x="1491" y="740.4" font-size="13" text-anchor="middle" stroke="#000" stroke-width="0.3">0</text>
<text x="1507.5" y="749.5" font-size="13" text-anchor="middle" stroke="#000" stroke-width="0.3">20</text>
<text x="1558" y="749.5" font-size="13" text-anchor="middle" stroke="#000" stroke-width="0.3">10</text>
<text x="1604.25" y="749.5" font-size="13" text-anchor="middle" stroke="#000" stroke-width="0.3">0</text>
<text x="1650.75" y="749.5" font-size="13" text-anchor="middle" stroke="#000" stroke-width="0.3">10</text>
<text x="1693" y="749.5" font-size="13" text-anchor="middle" stroke="#000" stroke-width="0.3">20</text>
<text transform="translate(1455.75,568.75) rotate(90)" font-size="21.5" textLength="159.25" lengthAdjust="spacingAndGlyphs" stroke="#fff" stroke-width="0.2">Set distance L (m)</text>
<text x="1521" y="769" font-size="12" textLength="20" lengthAdjust="spacingAndGlyphs" fill="#222">Left</text>
<text x="1586.7" y="769" font-size="12" textLength="37.3" lengthAdjust="spacingAndGlyphs" fill="#222">Middle</text>
<text x="1658.3" y="769" font-size="12" textLength="29.0" lengthAdjust="spacingAndGlyphs" fill="#222">Right</text>
<text x="1531" y="787.9" font-size="12" fill="#222" textLength="147.7" lengthAdjust="spacingAndGlyphs">Working point <tspan font-size="17">θ</tspan> angle <tspan font-size="15">(°)</tspan></text>
</svg>
</body></html>
